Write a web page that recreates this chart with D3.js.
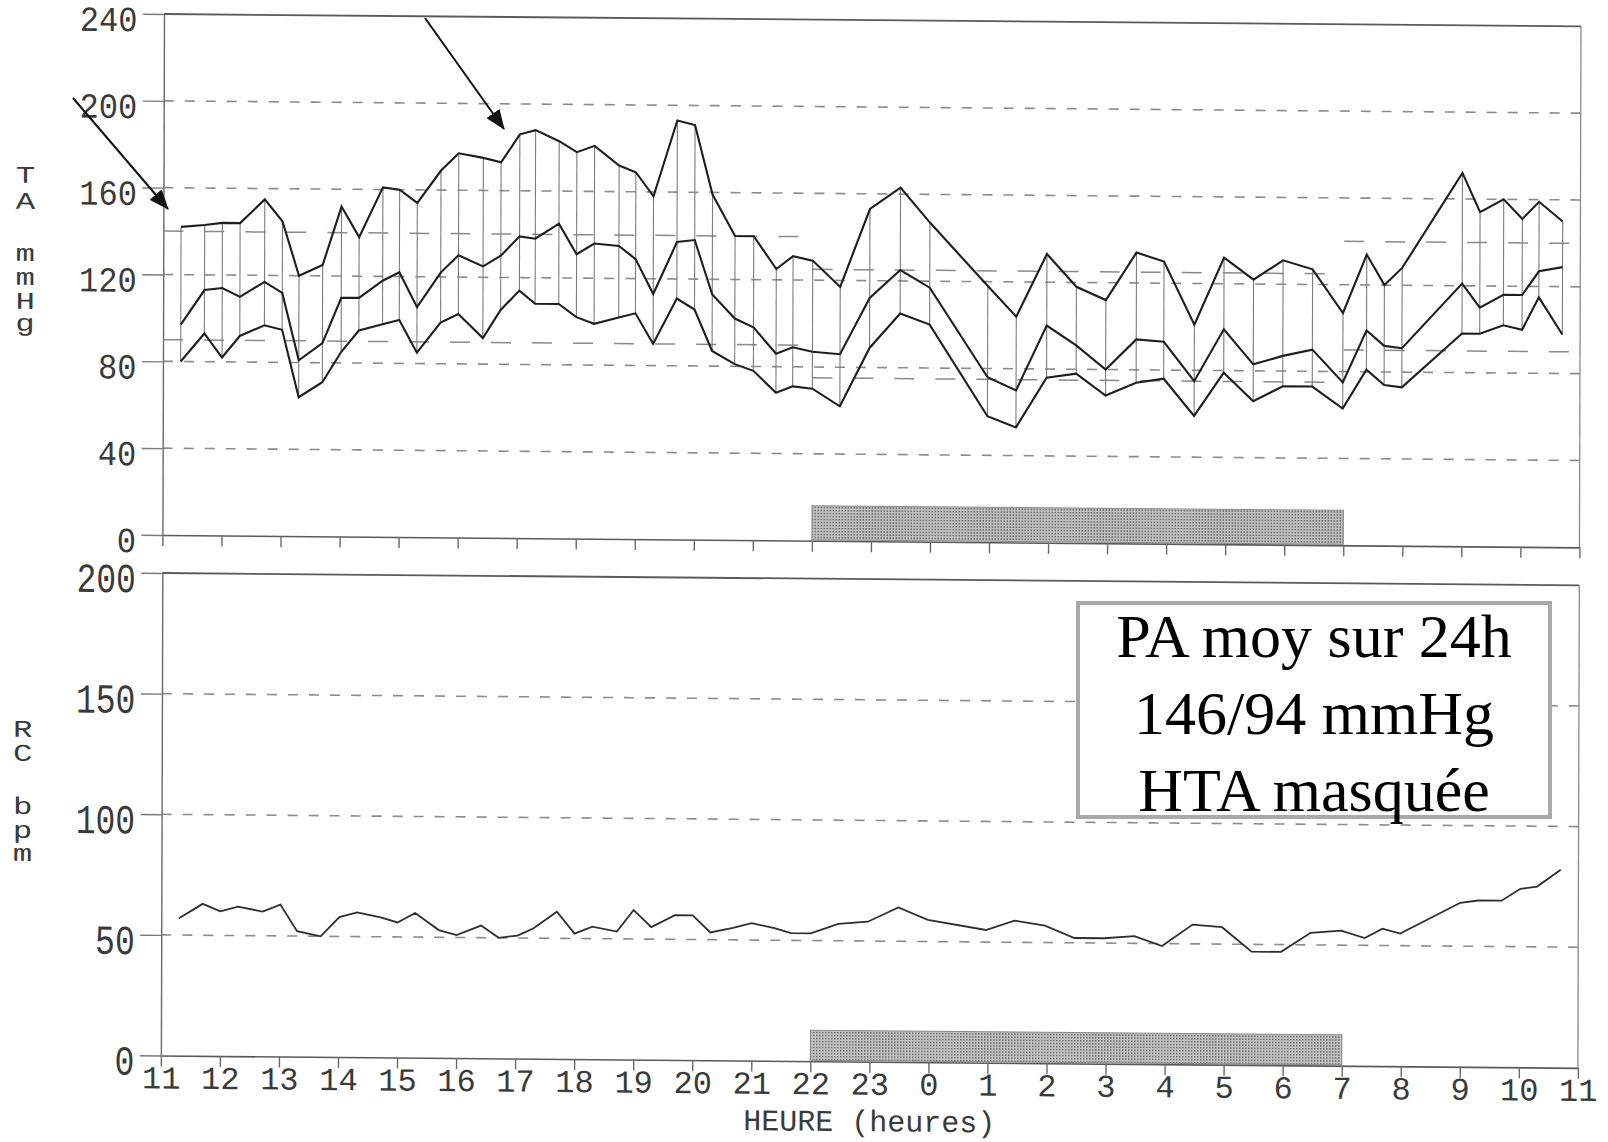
<!DOCTYPE html>
<html>
<head>
<meta charset="utf-8">
<script src="https://cdn.jsdelivr.net/npm/d3@7"></script>
<style>
  html, body { margin: 0; padding: 0; background: #fff; }
  svg { display: block; }
</style>
</head>
<body>
<svg class="entry-point"></svg>
<script>
/* readings, one per measurement (clock time of the recorder) */
const times = ['11:18', '11:42', '12:00', '12:18', '12:43', '13:01', '13:18', '13:42', '14:01', '14:19',
  '14:43', '15:00', '15:18', '15:42', '16:00', '16:25', '16:43', '17:02', '17:18', '17:42',
  '18:00', '18:18', '18:43', '19:00', '19:18', '19:42', '20:00', '20:18', '20:41', '21:00',
  '21:23', '21:40', '22:00', '22:28', '22:58', '23:29', '23:59', '00:58', '01:27', '01:58',
  '02:28', '02:58', '03:29', '03:57', '04:28', '04:58', '05:28', '05:58', '06:28', '06:59',
  '07:23', '07:41', '07:59', '09:00', '09:18', '09:42', '10:01', '10:18', '10:42']
const systolic = [142, 143, 144, 144, 155, 145, 120, 125, 152, 138,
  161, 160, 154, 169, 177, 175, 173, 186, 188, 183,
  178, 181, 172, 169, 158, 193, 191, 159, 140, 140,
  125, 131, 129, 117, 153, 163, 147, 118, 104, 133,
  118, 112, 134, 130, 101, 132, 122, 131, 127, 107,
  134, 120, 128, 172, 154, 160, 151, 159, 150]
const meanBP = [97, 113, 114, 110, 117, 112, 81, 89, 110, 110,
  118, 122, 106, 122, 130, 125, 130, 139, 138, 145,
  131, 136, 135, 129, 113, 137, 138, 113, 102, 98,
  86, 89, 87, 86, 112, 125, 117, 76, 70, 100,
  91, 80, 94, 93, 75, 99, 83, 87, 90, 75,
  99, 92, 91, 121, 110, 116, 116, 127, 129]
const diastolic = [80, 93, 82, 92, 97, 95, 64, 71, 85, 95,
  98, 100, 85, 99, 103, 92, 105, 114, 108, 108,
  102, 99, 102, 104, 90, 111, 106, 87, 81, 78,
  68, 71, 70, 62, 89, 105, 100, 58, 53, 76,
  78, 68, 74, 76, 59, 79, 66, 73, 73, 63,
  81, 74, 73, 98, 98, 102, 100, 115, 98]
const heartRate = [57, 63, 60, 62, 60, 63, 52, 50, 58, 60,
  58, 56, 60, 53, 51, 55, 50, 51, 54, 61,
  52, 55, 53, 62, 55, 60, 60, 53, 55, 57,
  55, 53, 53, 57, 58, 64, 59, 55, 59, 57,
  52, 52, 53, 49, 58, 57, 47, 47, 55, 56,
  53, 57, 55, 68, 69, 69, 74, 75, 82]

/* axes */
const hourTicks = d3.range(0, 25)              // hours after 11:00
const bpTicks = [0, 40, 80, 120, 160, 200, 240]
const bpGrid = [40, 80, 120, 160, 200]
const hrTicks = [0, 50, 100, 150, 200]
const hrGrid = [50, 100, 150]

/* day / night limits */
const limitTimes = ['11:00', '22:00', '07:00', '11:00']
const sysLimits = [140, 125, 140]
const diaLimits = [90, 75, 90]
const night = ['22:00', '07:00']

const summary = ['PA moy sur 24h', '146/94 mmHg', 'HTA masquée']

// minutes after 11:00
const toMin = (s, end) => {
  const [h, m] = s.split(':').map(Number)
  let v = h * 60 + m - 660
  if (v < 0) v += 1440
  if (end && v === 0) v = 1440
  return v
}

const points = times.map((t, i) => ({
  t: toMin(t), sys: systolic[i], mean: meanBP[i], dia: diastolic[i], hr: heartRate[i]
}))

const W = 1608, H = 1142
const MONO = "'Liberation Mono', 'DejaVu Sans Mono', monospace"
const INK = '#3a3a3a'

const x = d3.scaleLinear().domain([0, 1440]).range([164, 1581])
const yBP = d3.scaleLinear().domain([0, 240]).range([535, 14])
const yHR = d3.scaleLinear().domain([0, 200]).range([1055.5, 573])

const svg = d3.select('.entry-point').attr('width', W).attr('height', H)

const defs = svg.append('defs')
const pat = defs.append('pattern').attr('id', 'dots')
  .attr('patternUnits', 'userSpaceOnUse').attr('width', 3).attr('height', 3)
pat.append('rect').attr('width', 3).attr('height', 3).attr('fill', '#c2c2c2')
pat.append('rect').attr('width', 1.6).attr('height', 1.6).attr('fill', '#6f6f6f')

defs.append('marker').attr('id', 'head')
  .attr('markerUnits', 'userSpaceOnUse')
  .attr('viewBox', '0 0 20 16').attr('markerWidth', 20).attr('markerHeight', 16)
  .attr('refX', 19).attr('refY', 8).attr('orient', 'auto')
  .append('path').attr('d', 'M0,0 L20,8 L0,16 Z').attr('fill', '#111')

// the scanned sheet is slightly skewed
const chart = svg.append('g')
  .attr('transform', 'translate(163.5,14) matrix(1,0.0087,-0.003,1,0,0) translate(-163.5,-14)')

function panel (y, ticks, grid, top, bottom, shadeH, labelSize, labelScale, labelDy, showHours) {
  const g = chart.append('g')
  const xa = x(0), xb = x(1440)

  // night band
  g.append('rect')
    .attr('x', x(toMin(night[0]))).attr('width', x(toMin(night[1])) - x(toMin(night[0])))
    .attr('y', y(0) - shadeH - 1).attr('height', shadeH)
    .attr('fill', 'url(#dots)').attr('stroke', '#8a8a8a').attr('stroke-width', 1)

  g.selectAll('line.grid').data(grid).enter().append('line')
    .attr('class', 'grid')
    .attr('x1', xa).attr('x2', xb)
    .attr('y1', d => y(d)).attr('y2', d => y(d))
    .attr('stroke', '#8c8c8c').attr('stroke-width', 1.6)
    .attr('stroke-dasharray', '10 11')

  // frame top and right
  g.append('line').attr('x1', xa).attr('x2', xb).attr('y1', y(top)).attr('y2', y(top))
    .attr('stroke', '#5a5a5a').attr('stroke-width', 1.8)
  g.append('line').attr('x1', xb).attr('x2', xb).attr('y1', y(top)).attr('y2', y(bottom))
    .attr('stroke', '#8a8a8a').attr('stroke-width', 1.3)

  const left = g.append('g').attr('transform', `translate(${xa},0)`)
    .call(d3.axisLeft(y).tickValues(ticks).tickSize(21).tickSizeOuter(0).tickPadding(5))
  left.select('.domain').attr('stroke', '#6a6a6a').attr('stroke-width', 1.4)
  left.selectAll('.tick line').attr('stroke', '#7a7a7a').attr('stroke-width', 1.4)
  left.selectAll('.tick text')
    .attr('font-family', MONO).attr('font-size', labelSize).attr('fill', INK)
    .attr('x', -26.5).attr('dy', null).attr('y', labelDy / labelScale)
    .attr('transform', `scale(1,${labelScale})`)

  const bot = g.append('g').attr('transform', `translate(0,${y(0)})`)
    .call(d3.axisBottom(x).tickValues(hourTicks.map(h => h * 60)).tickSize(11).tickSizeOuter(0)
      .tickFormat(m => showHours ? String((11 + m / 60) % 24) : ''))
  bot.select('.domain').attr('stroke', '#5a5a5a').attr('stroke-width', 1.6)
  bot.selectAll('.tick line').attr('stroke', '#6a6a6a').attr('stroke-width', 1.4)
  bot.selectAll('.tick text')
    .attr('font-family', MONO).attr('font-size', 32).attr('fill', INK)
    .attr('dy', null).attr('y', 33)
  return g
}

/* pressure panel */
const bp = panel(yBP, bpTicks, bpGrid, 240, 0, 34, 32, 1.1, 17, false)

limitTimes.slice(0, -1).forEach((s, i) => {
  const x1 = x(toMin(s)), x2 = x(toMin(limitTimes[i + 1], true))
  ;[sysLimits[i], diaLimits[i]].forEach(v => {
    bp.append('line').attr('x1', x1).attr('x2', x2).attr('y1', yBP(v)).attr('y2', yBP(v))
      .attr('stroke', '#8a8a8a').attr('stroke-width', 1.5).attr('stroke-dasharray', '20 21')
  })
})

bp.selectAll('line.bar').data(points).enter().append('line')
  .attr('class', 'bar')
  .attr('x1', d => x(d.t)).attr('x2', d => x(d.t))
  .attr('y1', d => yBP(d.sys)).attr('y2', d => yBP(d.dia))
  .attr('stroke', '#7c7c7c').attr('stroke-width', 1.1)

;['sys', 'mean', 'dia'].forEach(k => {
  bp.append('path').datum(points)
    .attr('d', d3.line().x(d => x(d.t)).y(d => yBP(d[k])))
    .attr('fill', 'none').attr('stroke', '#1e1e1e').attr('stroke-width', 2.1)
})

/* heart rate panel */
const hr = panel(yHR, hrTicks, hrGrid, 200, 0, 30, 33, 1.25, 19, true)
hr.append('path').datum(points)
  .attr('d', d3.line().x(d => x(d.t)).y(d => yHR(d.hr)))
  .attr('fill', 'none').attr('stroke', '#2e2e2e').attr('stroke-width', 1.8)

chart.append('text').attr('x', x(720)).attr('y', 1125)
  .attr('text-anchor', 'middle').attr('font-family', MONO).attr('font-size', 30).attr('fill', INK)
  .text('HEURE (heures)')

// stacked axis titles, one letter per line (wide typewriter letters)
const stack = (chars, baselines, cx) => {
  chart.append('text')
    .attr('transform', `translate(${cx},0) scale(1.35,1)`)
    .attr('text-anchor', 'middle').attr('font-family', MONO).attr('font-size', 24).attr('fill', INK)
    .selectAll('tspan').data(chars).enter().append('tspan')
    .attr('x', 0).attr('y', (d, i) => baselines[i])
    .text(d => d)
}
stack(['T', 'A', 'm', 'm', 'H', 'g'], [184, 210, 262, 286, 310, 332], 26)
stack(['R', 'C', 'b', 'p', 'm'], [738, 762, 815, 839, 862], 25)

/* overlay: summary box and arrows */
svg.append('rect').attr('x', 1078).attr('y', 603).attr('width', 472).attr('height', 214)
  .attr('fill', '#fff').attr('stroke', '#a9a9a9').attr('stroke-width', 4)
svg.selectAll('text.sum').data(summary).enter().append('text')
  .attr('class', 'sum')
  .attr('x', 1314).attr('y', (d, i) => 657 + i * 77)
  .attr('text-anchor', 'middle').attr('font-family', "'Liberation Serif', serif")
  .attr('font-size', 62).attr('fill', '#000')
  .text(d => d)

const arrows = [[[73, 98], [168, 209]], [[425, 18], [504, 129]]]
svg.selectAll('line.arrow').data(arrows).enter().append('line')
  .attr('class', 'arrow')
  .attr('x1', d => d[0][0]).attr('y1', d => d[0][1])
  .attr('x2', d => d[1][0]).attr('y2', d => d[1][1])
  .attr('stroke', '#111').attr('stroke-width', 2)
  .attr('marker-end', 'url(#head)')
</script>
</body>
</html>
